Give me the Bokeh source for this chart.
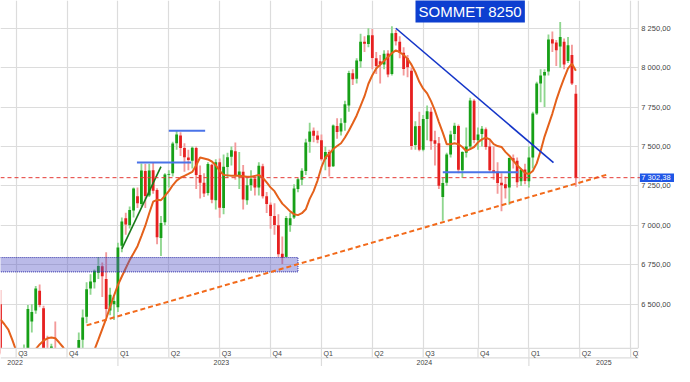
import pandas as pd
from bokeh.plotting import figure
from bokeh.models import Range1d, FixedTicker, ColumnDataSource
from bokeh.core.properties import value
from bokeh.embed import file_html
from bokeh.resources import INLINE

# ---------------- data (weekly candles, CAC 40) ----------------
FIRST_WEEK = "2022-06-06"
OPEN = [6500, 6150, 5900, 6080, 5930, 6000, 6040, 6210, 6390, 6460, 6585, 6475, 6210, 6150, 6220,
        6080, 5780, 5770, 5850, 5940, 6040, 6275, 6420, 6600, 6640, 6700, 6740, 6660, 6460, 6500,
        6480, 6870, 7045, 7000, 7095, 7185, 7135, 7345, 7190, 7350, 7225, 6920, 7020, 7320, 7330,
        7520, 7570, 7490, 7430, 7410, 7490, 7320, 7270, 7205, 7385, 7160, 7400, 7110, 7370, 7435,
        7470, 7310, 7340, 7160, 7255, 7295, 7240, 7375, 7185, 7130, 7060, 7000, 6820, 6800, 7000,
        7050, 7230, 7290, 7345, 7530, 7600, 7570, 7540, 7420, 7465, 7375, 7630, 7595, 7650, 7760,
        7965, 7930, 8040, 8165, 8150, 8205, 8060, 8040, 8020, 8090, 7960, 8220, 8165, 8095, 8060,
        7980, 7510, 7630, 7480, 7675, 7720, 7540, 7520, 7180, 7270, 7450, 7580, 7630, 7350, 7460,
        7500, 7790, 7540, 7580, 7610, 7500, 7350, 7340, 7270, 7260, 7240, 7425, 7410, 7280, 7355,
        7280, 7430, 7710, 7900, 7950, 7975, 8180, 8160, 8135, 8165, 8042, 8080, 7835]
HIGH = [6590, 6200, 6100, 6140, 6060, 6100, 6245, 6495, 6500, 6615, 6625, 6490, 6300, 6250, 6390,
        6130, 5880, 5950, 5960, 6100, 6320, 6466, 6640, 6690, 6720, 6800, 6765, 6830, 6605, 6550,
        6890, 7050, 7080, 7120, 7240, 7240, 7393, 7390, 7390, 7400, 7235, 7060, 7330, 7350, 7530,
        7600, 7590, 7520, 7480, 7500, 7500, 7380, 7330, 7400, 7390, 7420, 7424, 7450, 7460, 7500,
        7525, 7466, 7383, 7300, 7350, 7320, 7400, 7390, 7211, 7145, 7140, 7070, 6930, 7060, 7080,
        7260, 7300, 7363, 7550, 7650, 7620, 7600, 7576, 7500, 7480, 7640, 7680, 7680, 7790, 7980,
        7990, 8060, 8215, 8200, 8250, 8245, 8100, 8080, 8110, 8110, 8262, 8240, 8200, 8130, 8080,
        8000, 7660, 7720, 7700, 7760, 7750, 7600, 7560, 7300, 7460, 7600, 7650, 7640, 7470, 7620,
        7810, 7800, 7620, 7630, 7620, 7540, 7500, 7400, 7330, 7310, 7430, 7450, 7430, 7360, 7390,
        7500, 7720, 7910, 7990, 7990, 8210, 8230, 8175, 8290, 8185, 8195, 8145, 7890]
LOW = [6180, 5850, 5880, 5900, 5830, 5850, 6000, 6150, 6320, 6440, 6480, 6200, 6100, 6080, 6050,
       5780, 5630, 5740, 5690, 5880, 6020, 6200, 6380, 6560, 6600, 6660, 6545, 6420, 6430, 6400,
       6450, 6830, 6940, 6980, 7050, 7110, 7120, 7110, 7180, 7200, 6880, 6806, 7000, 7240, 7310,
       7480, 7440, 7340, 7350, 7360, 7230, 7170, 7180, 7190, 7140, 7100, 7049, 7070, 7300, 7380,
       7290, 7230, 7100, 7130, 7220, 7190, 7190, 7170, 7079, 6978, 6940, 6800, 6755, 6800, 6960,
       7040, 7210, 7255, 7320, 7460, 7527, 7520, 7410, 7350, 7310, 7370, 7550, 7570, 7600, 7720,
       7890, 7900, 8000, 8100, 8130, 7990, 7960, 7900, 7990, 7940, 7950, 8140, 8060, 7950, 7940,
       7480, 7480, 7470, 7470, 7540, 7480, 7380, 7230, 7030, 7250, 7430, 7540, 7330, 7300, 7430,
       7480, 7520, 7480, 7500, 7480, 7340, 7290, 7200, 7090, 7170, 7130, 7360, 7240, 7250, 7260,
       7240, 7360, 7700, 7780, 7750, 7950, 8100, 8010, 8000, 7990, 8030, 7890, 7245]
CLOSE = [6187, 5882, 6073, 5931, 6008, 6036, 6217, 6470, 6450, 6600, 6495, 6215, 6150, 6232, 6077,
         5783, 5762, 5866, 5932, 6035, 6273, 6416, 6595, 6644, 6712, 6742, 6677, 6470, 6560, 6520,
         6860, 7024, 7005, 7097, 7233, 7140, 7348, 7187, 7348, 7220, 6925, 7015, 7322, 7324, 7519,
         7577, 7491, 7432, 7414, 7492, 7319, 7270, 7202, 7389, 7163, 7400, 7112, 7372, 7432, 7476,
         7316, 7341, 7164, 7254, 7296, 7240, 7378, 7184, 7135, 7060, 7003, 6817, 6795, 7047, 7045,
         7233, 7293, 7346, 7526, 7596, 7569, 7543, 7420, 7465, 7372, 7634, 7592, 7648, 7768, 7966,
         7927, 8046, 8164, 8151, 8205, 8061, 8010, 8022, 8088, 7957, 8219, 8167, 8094, 7992, 8002,
         7503, 7628, 7479, 7675, 7724, 7534, 7517, 7251, 7269, 7449, 7577, 7631, 7352, 7465, 7500,
         7792, 7541, 7577, 7613, 7497, 7350, 7338, 7269, 7255, 7235, 7427, 7410, 7274, 7355, 7282,
         7431, 7710, 7900, 7950, 7973, 8179, 8154, 8111, 8195, 8020, 8142, 7900, 7302.38]
MOVING_AVG = [6403, 6373, 6339, 6275, 6205, 6170, 6150, 6160, 6190, 6215, 6245, 6269, 6284, 6289, 6284,
              6257, 6227, 6190, 6140, 6110, 6110, 6140, 6180, 6205, 6210, 6275, 6342, 6409, 6482, 6555,
              6622, 6676, 6728, 6780, 6823, 6868, 6932, 6998, 7077, 7150, 7162, 7160, 7187, 7217, 7254,
              7284, 7302, 7314, 7326, 7339, 7381, 7430, 7424, 7418, 7405, 7381, 7345, 7320, 7317, 7314,
              7314, 7314, 7312, 7308, 7308, 7314, 7320, 7302, 7272, 7241, 7217, 7175, 7138, 7114, 7089,
              7071, 7065, 7077, 7102, 7168, 7217, 7284, 7369, 7430, 7454, 7484, 7503, 7521, 7557, 7600,
              7648, 7697, 7758, 7819, 7898, 7952, 7995, 8019, 8043, 8068, 8092, 8110, 8098, 8080, 8056,
              8019, 7971, 7910, 7867, 7837, 7788, 7727, 7655, 7588, 7515, 7515, 7521, 7515, 7497, 7472,
              7484, 7497, 7527, 7545, 7557, 7545, 7515, 7503, 7497, 7466, 7442, 7411, 7381, 7357, 7333,
              7326, 7345, 7393, 7472, 7563, 7636, 7709, 7794, 7867, 7934, 7995, 8025, 7980]
LAST_PRICE = 7302.38
LAST_PRICE_LABEL = "7 302,38"

Y_TICKS = [6500, 6750, 7000, 7250, 7500, 7750, 8000, 8250]
Y_TICK_LABELS = ["6 500,00", "6 750,00", "7 000,00", "7 250,00", "7 500,00", "7 750,00", "8 000,00", "8 250,00"]
QUARTER_DATES = ["2022-07-04", "2022-10-03", "2023-01-02", "2023-04-03", "2023-07-03", "2023-10-02",
                 "2024-01-01", "2024-04-01", "2024-07-01", "2024-10-07", "2025-01-06", "2025-04-07", "2025-07-07"]
QUARTER_LABELS = ["Q3", "Q4", "Q1", "Q2", "Q3", "Q4", "Q1", "Q2", "Q3", "Q4", "Q1", "Q2", "Q3"]
YEAR_STARTS = ["2023-01-02", "2024-01-01", "2025-01-06"]
YEAR_LABELS = ["2022", "2023", "2024", "2025"]
YEAR_LABEL_DATES = ["2022-07-02", "2023-07-06", "2024-07-03", "2025-05-20"]

# drawn annotations (levels / trend lines)
SUPPORT_X = ["2022-11-07", "2025-05-26"]
SUPPORT_Y = [6366, 7322]
RESIST_X = ["2024-05-13", "2025-02-19"]
RESIST_Y = [8250, 7398]
GREEN_TREND_X = ["2023-01-09", "2023-03-20"]
GREEN_TREND_Y = [6851, 7373]
LEVEL_START = ["2023-04-03", "2023-02-05", "2024-08-05"]
LEVEL_END = ["2023-06-07", "2023-05-13", "2024-12-18"]
LEVEL_VALUE = [7600, 7399, 7337]
ZONE_X = ["2022-05-01", "2023-11-20"]
ZONE_Y = [6705, 6796]
TITLE_TEXT = "SOMMET 8250"
TITLE_DATE = "2024-09-23"
TITLE_VALUE = 8359

# ---------------- layout constants ----------------
X_START = pd.Timestamp("2022-06-06")
PRICE_RIGHT = pd.Timestamp("2025-07-20 19:00")   # right edge of the price pane
X_END = pd.Timestamp("2025-09-23 10:00")         # right edge incl. price-scale column
TAG_LEFT = pd.Timestamp("2025-07-23 12:00")
TAG_HALF = 27
Y_MIN, Y_MAX = 6105, 8426
FRAME_BOTTOM_V = 6220   # bottom of price area
ROW_SPLIT_V = 6160      # line between quarter row and year row
QUARTER_ROW_V = 6190
YEAR_ROW_V = 6130
DAY_MS = 86400000
FONT = "Liberation Sans"
GRID_COLOR = "#dcdcdc"
LABEL_COLOR = "#444444"

dates = pd.date_range(FIRST_WEEK, periods=len(CLOSE), freq="7D")
up = [c >= o for o, c in zip(OPEN, CLOSE)]
src = ColumnDataSource(dict(
    date=dates, open=OPEN, high=HIGH, low=LOW, close=CLOSE,
    top=[max(o, c) for o, c in zip(OPEN, CLOSE)],
    bottom=[min(o, c) for o, c in zip(OPEN, CLOSE)],
    body=["#17a017" if u else "#e62020" for u in up],
    wick=["#8fd68f" if u else "#f39a9a" for u in up],
))

p = figure(frame_width=674, frame_height=366, x_axis_type="datetime",
           x_axis_location=None, y_axis_location=None,
           x_range=Range1d(X_START, X_END), y_range=Range1d(Y_MIN, Y_MAX),
           toolbar_location=None, output_backend="svg",
           min_border=0, outline_line_color=None,
           background_fill_color="white", border_fill_color="white")

q_ms = [pd.Timestamp(d).value // 10**6 for d in QUARTER_DATES]
p.xgrid.ticker = FixedTicker(ticks=q_ms)
p.ygrid.ticker = FixedTicker(ticks=Y_TICKS)
for g in (p.xgrid, p.ygrid):
    g.grid_line_color = GRID_COLOR
    g.grid_line_width = 1.2

# candles
p.vbar(x="date", top="high", bottom="low", width=3.3 * DAY_MS, fill_color="wick", line_color=None, source=src)
p.vbar(x="date", top="top", bottom="bottom", width=5.0 * DAY_MS, fill_color="body", line_color=None, source=src)

# moving average
p.line(dates, MOVING_AVG, line_color="#e4611b", line_width=2)

# support zone
p.quad(left=[pd.Timestamp(ZONE_X[0])], right=[pd.Timestamp(ZONE_X[1])], bottom=[ZONE_Y[0]], top=[ZONE_Y[1]],
       fill_color="#5252c6", fill_alpha=0.40, line_color="#3030a8", line_dash="1 1", line_width=1)

# trend lines
p.line(pd.to_datetime(SUPPORT_X), SUPPORT_Y, line_color="#f26a1b", line_width=2, line_dash="5 3")
p.line(pd.to_datetime(RESIST_X), RESIST_Y, line_color="#1435c8", line_width=1.6)
p.line(pd.to_datetime(GREEN_TREND_X), GREEN_TREND_Y, line_color="#1a7a1a", line_width=1.6)
p.segment(x0=pd.to_datetime(LEVEL_START), x1=pd.to_datetime(LEVEL_END), y0=LEVEL_VALUE, y1=LEVEL_VALUE,
          line_color="#4a73e8", line_width=2)

# price-scale column (right)
p.quad(left=[PRICE_RIGHT], right=[X_END], bottom=[Y_MIN], top=[Y_MAX], fill_color="white", line_color=None)
p.segment(x0=[PRICE_RIGHT], x1=[PRICE_RIGHT], y0=[ROW_SPLIT_V], y1=[Y_MAX], line_color=GRID_COLOR, line_width=1.2)
p.text(x=[PRICE_RIGHT] * len(Y_TICKS), y=Y_TICKS, text=Y_TICK_LABELS, x_offset=3,
       text_align="left", text_baseline="middle", text_font=value(FONT),
       text_font_size="7.5px", text_color=LABEL_COLOR)

# last price line and tag
p.segment(x0=[X_START], x1=[X_END], y0=[LAST_PRICE], y1=[LAST_PRICE],
          line_color="#e53935", line_width=1, line_dash="4 3")
p.quad(left=[TAG_LEFT], right=[X_END], bottom=[LAST_PRICE - TAG_HALF], top=[LAST_PRICE + TAG_HALF],
       fill_color="#1f56e6", line_color=None)
p.text(x=[PRICE_RIGHT], y=[LAST_PRICE], text=[LAST_PRICE_LABEL], x_offset=3,
       text_align="left", text_baseline="middle", text_font=value(FONT),
       text_font_size="7.5px", text_color="white")

# bottom time-axis rows
p.quad(left=[X_START], right=[X_END], bottom=[Y_MIN], top=[FRAME_BOTTOM_V], fill_color="white", line_color=None)
p.segment(x0=[X_START, X_START], x1=[PRICE_RIGHT, PRICE_RIGHT], y0=[FRAME_BOTTOM_V, ROW_SPLIT_V],
          y1=[FRAME_BOTTOM_V, ROW_SPLIT_V], line_color=GRID_COLOR, line_width=1.2)
qd = pd.to_datetime(QUARTER_DATES)
p.segment(x0=qd, x1=qd, y0=[ROW_SPLIT_V] * len(qd), y1=[FRAME_BOTTOM_V] * len(qd),
          line_color=GRID_COLOR, line_width=1.2)
yd = pd.to_datetime(YEAR_STARTS)
p.segment(x0=yd, x1=yd, y0=[Y_MIN] * len(yd), y1=[ROW_SPLIT_V] * len(yd),
          line_color=GRID_COLOR, line_width=1.2)
p.text(x=qd, y=[QUARTER_ROW_V] * len(qd), text=QUARTER_LABELS, x_offset=2,
       text_align="left", text_baseline="middle", text_font=value(FONT),
       text_font_size="7px", text_color=LABEL_COLOR)
# hide the part of the last quarter label that spills into the price-scale column
p.quad(left=[PRICE_RIGHT], right=[X_END], bottom=[ROW_SPLIT_V], top=[FRAME_BOTTOM_V], fill_color="white", line_color=None)
p.text(x=pd.to_datetime(YEAR_LABEL_DATES), y=[YEAR_ROW_V] * len(YEAR_LABELS), text=YEAR_LABELS,
       text_align="center", text_baseline="middle", text_font=value(FONT),
       text_font_size="7px", text_color=LABEL_COLOR)

# title box
title_x = [pd.Timestamp(TITLE_DATE)]
p.text(x=title_x, y=[TITLE_VALUE], text=[TITLE_TEXT], text_align="center", text_baseline="middle",
       text_font=value(FONT), text_font_size="15px", text_color="white",
       background_fill_color="#0d3fd0", padding=3)

open("out.html", "w").write(file_html(p, INLINE))
